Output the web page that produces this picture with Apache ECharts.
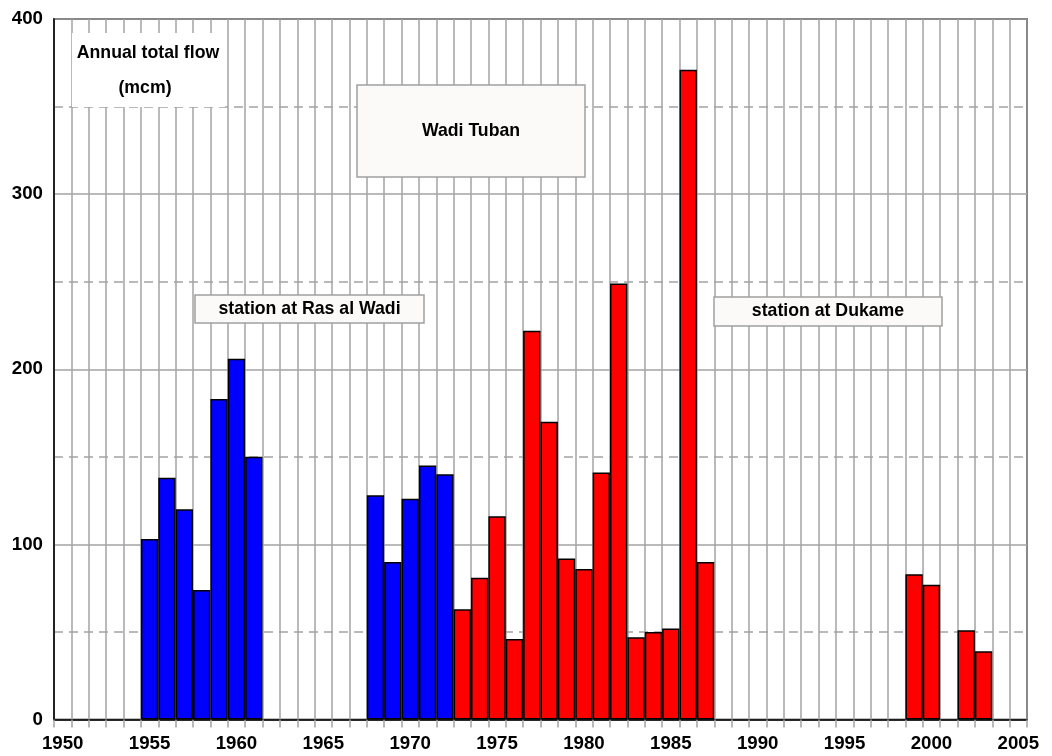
<!DOCTYPE html>
<html>
<head>
<meta charset="utf-8">
<title>Wadi Tuban annual total flow</title>
<script src="https://cdn.jsdelivr.net/npm/echarts@6/dist/echarts.min.js"></script>
<style>
  html, body { margin: 0; padding: 0; background: #ffffff; }
  #chart { width: 1052px; height: 756px; }
</style>
</head>
<body>
<div id="chart"></div>
<script>
// Year range shown on the horizontal axis (one category per year)
const firstYear = 1950;
const lastYear = 2005;

// Station at Ras al Wadi (mcm)
const rasYears = [1955, 1956, 1957, 1958, 1959, 1960, 1961, 1968, 1969, 1970, 1971, 1972];
const rasFlow  = [103, 138, 120, 74, 183, 206, 150, 128, 90, 126, 145, 140];

// Station at Dukame (mcm)
const dukYears = [1973, 1974, 1975, 1976, 1977, 1978, 1979, 1980, 1981, 1982, 1983, 1984, 1985, 1986, 1987, 1999, 2000, 2002, 2003];
const dukFlow  = [63, 81, 116, 46, 222, 170, 92, 86, 141, 249, 47, 50, 52, 371, 90, 83, 77, 51, 39];

// Value axis ticks
const yTicks = [0, 100, 200, 300, 400];

const years = [];
for (let y = firstYear; y <= lastYear; y++) years.push(String(y));

function toSeries(yrs, vals) {
  const out = years.map(() => null);
  yrs.forEach((y, i) => { out[y - firstYear] = vals[i]; });
  return out;
}

const FONT = '"Liberation Sans", Arial, sans-serif';
const BOX_FONT = 'bold 17.7px ' + FONT;
const GRID_GREY = '#a3a3a3';
const BOX_FILL = '#fbfaf8';
const BOX_STROKE = '#a0a0a0';

const chart = echarts.init(document.getElementById('chart'), null, { renderer: 'canvas' });

// Framed caption box laid over the grid
function boxLabel(x, y, w, h, text) {
  return [
    {
      type: 'rect', z: 100,
      shape: { x: x, y: y, width: w, height: h },
      style: { fill: BOX_FILL, stroke: BOX_STROKE, lineWidth: 1.5 }
    },
    {
      type: 'text', z: 101,
      x: x + w / 2, y: y + h / 2,
      style: { text: text, font: BOX_FONT, fill: '#000000', align: 'center', verticalAlign: 'middle' }
    }
  ];
}

chart.setOption({
  backgroundColor: '#ffffff',
  animation: false,
  grid: {
    left: 54, right: 25, top: 19, bottom: 36.5,
    show: true,
    borderColor: '#000000',
    borderWidth: 1.5,
    backgroundColor: 'transparent'
  },
  xAxis: {
    type: 'category',
    data: years,
    boundaryGap: true,
    axisLine: { show: true, lineStyle: { color: '#000000', width: 1.5 } },
    axisTick: { show: true, interval: 0, length: 8, lineStyle: { color: GRID_GREY, width: 1.5 } },
    axisLabel: {
      interval: 4,
      margin: 15,
      color: '#000000',
      fontFamily: FONT,
      fontWeight: 'bold',
      fontSize: 18.7
    },
    splitLine: { show: true, interval: 0, lineStyle: { color: GRID_GREY, width: 1.5 } }
  },
  yAxis: {
    type: 'value',
    min: yTicks[0],
    max: yTicks[yTicks.length - 1],
    interval: yTicks[1] - yTicks[0],
    axisLine: { show: true, lineStyle: { color: '#000000', width: 1.5 } },
    axisTick: { show: false },
    axisLabel: {
      margin: 11,
      color: '#000000',
      fontFamily: FONT,
      fontWeight: 'bold',
      fontSize: 18.7
    },
    splitLine: { show: true, lineStyle: { color: GRID_GREY, width: 1.5 } },
    minorTick: { show: false, splitNumber: 2 },
    minorSplitLine: { show: true, lineStyle: { color: GRID_GREY, width: 1.5, type: [9, 6] } }
  },
  series: [
    {
      name: 'station at Ras al Wadi',
      type: 'bar',
      data: toSeries(rasYears, rasFlow),
      barWidth: '100%',
      barGap: '-100%',
      itemStyle: { color: '#0000ff', borderColor: '#000000', borderWidth: 1.5 }
    },
    {
      name: 'station at Dukame',
      type: 'bar',
      data: toSeries(dukYears, dukFlow),
      barWidth: '100%',
      barGap: '-100%',
      itemStyle: { color: '#ff0000', borderColor: '#000000', borderWidth: 1.5 }
    }
  ],
  graphic: [
    { type: 'rect', z: 100, shape: { x: 72, y: 33, width: 153, height: 74 }, style: { fill: '#ffffff' } },
    { type: 'text', z: 101, x: 148, y: 53, style: { text: 'Annual total flow', font: BOX_FONT, fill: '#000', align: 'center', verticalAlign: 'middle' } },
    { type: 'text', z: 101, x: 145, y: 88, style: { text: '(mcm)', font: BOX_FONT, fill: '#000', align: 'center', verticalAlign: 'middle' } }
  ]
    .concat(boxLabel(357, 85, 228, 92, 'Wadi Tuban'))
    .concat(boxLabel(195, 295, 229, 28, 'station at Ras al Wadi'))
    .concat(boxLabel(714, 297, 228, 29, 'station at Dukame'))
});
</script>
</body>
</html>
